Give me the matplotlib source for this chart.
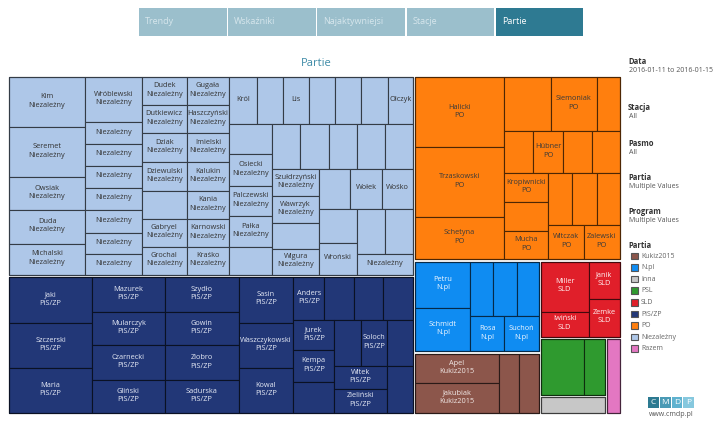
import matplotlib.pyplot as plt
from matplotlib.patches import Rectangle
import matplotlib.colors as mcolors

plt.rcParams['font.family'] = ['Open Sans', 'DejaVu Sans']

# czas antenowy (wartosci komorek treemapy)
niez_labels = ['Kim\nNiezależny', 'Seremet\nNiezależny', 'Owsiak\nNiezależny', 'Duda\nNiezależny', 'Michalski\nNiezależny',
               'Wróblewski\nNiezależny', 'Niezależny', 'Niezależny', 'Niezależny', 'Niezależny', 'Niezależny', 'Niezależny', 'Niezależny',
               'Dudek\nNiezależny', 'Dutkiewicz\nNiezależny', 'Dziak\nNiezależny', 'Dziewulski\nNiezależny', '', 'Gabryel\nNiezależny', 'Grochal\nNiezależny',
               'Gugała\nNiezależny', 'Haszczyński\nNiezależny', 'Imielski\nNiezależny', 'Kalukin\nNiezależny', 'Kania\nNiezależny', 'Karnowski\nNiezależny', 'Kraśko\nNiezależny',
               'Król', '', 'Lis', '', '', '', 'Olczyk',
               '', 'Osiecki\nNiezależny', 'Palczewski\nNiezależny', 'Pałka\nNiezależny', '',
               '', '', '', '', '',
               'Szułdrzyński\nNiezależny', 'Wawrzyk\nNiezależny', '', 'Wigura\nNiezależny',
               '', 'Wołek', 'Wośko',
               '', 'Wroński',
               '', '', 'Niezależny']
niez_values = [380, 380, 251, 258, 236,
               257, 125, 125, 125, 125, 131, 120, 120,
               126, 126, 131, 131, 126, 126, 126,
               120, 120, 125, 125, 120, 120, 120,
               132, 122, 122, 122, 122, 127, 118,
               129, 138, 129, 133, 120,
               126, 131, 126, 126, 126,
               127, 127, 122, 122,
               124, 128, 124,
               129, 122,
               126, 126, 118]
niez_tree = ('h', [('v', [0, 1, 2, 3, 4]), ('v', [5, 6, 7, 8, 9, 10, 11, 12]),
                   ('h', [('v', [13, 14, 15, 16, 17, 18, 19]), ('v', [20, 21, 22, 23, 24, 25, 26])]),
                   ('v', [('h', [27, 28, 29, 30, 31, 32, 33]),
                          ('h', [('v', [34, 35, 36, 37, 38]),
                                 ('v', [('h', [39, 40, 41, 42, 43]),
                                        ('h', [('v', [44, 45, 46, 47]),
                                               ('v', [('h', [48, 49, 50]),
                                                      ('h', [('v', [51, 52]), ('v', [('h', [53, 54]), 55])])])])])])])])

pis_labels = ['Jaki\nPiS/ZP', 'Szczerski\nPiS/ZP', 'Maria\nPiS/ZP',
              'Mazurek\nPiS/ZP', 'Mularczyk\nPiS/ZP', 'Czarnecki\nPiS/ZP', 'Gliński\nPiS/ZP',
              'Szydło\nPiS/ZP', 'Gowin\nPiS/ZP', 'Ziobro\nPiS/ZP', 'Sadurska\nPiS/ZP',
              'Sasin\nPiS/ZP', 'Waszczykowski\nPiS/ZP', 'Kowal\nPiS/ZP',
              'Anders\nPiS/ZP', '', '', '',
              'Jurek\nPiS/ZP', 'Kempa\nPiS/ZP', '',
              '', 'Soloch\nPiS/ZP', '',
              'Witek\nPiS/ZP', 'Zieliński\nPiS/ZP', '']
pis_values = [382, 382, 374,
              256, 248, 256, 241,
              259, 252, 259, 244,
              253, 253, 248,
              133, 129, 125, 129,
              127, 131, 127,
              127, 122, 122,
              122, 127, 122]
pis_tree = ('h', [('v', [0, 1, 2]), ('v', [3, 4, 5, 6]), ('v', [7, 8, 9, 10]), ('v', [11, 12, 13]),
                  ('v', [('h', [14, 15, 16, 17]),
                         ('h', [('v', [18, 19, 20]),
                                ('v', [('h', [21, 22, 23]), ('h', [('v', [24, 25]), 26])])])])])

po_labels = ['Halicki\nPO', 'Trzaskowski\nPO', 'Schetyna\nPO',
             '', 'Siemoniak\nPO', '',
             '', 'Hübner\nPO', '', '',
             'Kropiwnicki\nPO', '', 'Mucha\nPO',
             '', '', '',
             'Witczak\nPO', 'Zalewski\nPO']
po_values = [632, 623, 383,
             254, 248, 124,
             125, 129, 125, 120,
             128, 128, 128,
             125, 130, 120,
             126, 126]
po_tree = ('h', [('v', [0, 1, 2]),
                 ('v', [('h', [3, 4, 5]), ('h', [6, 7, 8, 9]),
                        ('h', [('v', [10, 11, 12]), ('v', [('h', [13, 14, 15]), ('h', [16, 17])])])])])

npl_labels = ['Petru\nN.pl', 'Schmidt\nN.pl', '', '', '', 'Rosa\nN.pl', 'Suchoń\nN.pl']
npl_values = [262, 250, 131, 131, 125, 123, 123]
npl_tree = ('h', [('v', [0, 1]), ('v', [('h', [2, 3, 4]), ('h', [5, 6])])])

kukiz_labels = ['Apel\nKukiz2015', 'Jakubiak\nKukiz2015', '', '']
kukiz_values = [258, 258, 124, 124]
kukiz_tree = ('h', [('v', [0, 1]), 2, 3])

sld_labels = ['Miller\nSLD', 'Iwiński\nSLD', 'Janik\nSLD', 'Zemke\nSLD']
sld_values = [250, 125, 122, 125]
sld_tree = ('h', [('v', [0, 1]), ('v', [2, 3])])

psl_labels = ['', '']
psl_values = [255, 125]
psl_tree = ('h', [0, 1])

inna_labels = ['']
inna_values = [118]
razem_labels = ['']
razem_values = [113]

party_tree = ('h', [('v', ['Niezależny', 'PiS/ZP']),
                    ('v', ['PO', ('h', [('v', ['N.pl', 'Kukiz2015']),
                                        ('v', ['SLD', ('h', [('v', ['PSL', 'Inna']), 'Razem'])])])])])

legend_names = ['Kukiz2015', 'N.pl', 'Inna', 'PSL', 'SLD', 'PiS/ZP', 'PO', 'Niezależny', 'Razem']
colors = {'Kukiz2015': '#8c564b', 'N.pl': '#0f8cf2', 'Inna': '#c7c7c7', 'PSL': '#2f9a2f',
          'SLD': '#e01f2a', 'PiS/ZP': '#223777', 'PO': '#ff7f0e', 'Niezależny': '#aec7e8', 'Razem': '#e377c2'}
text_colors = {'Kukiz2015': '#f0e8e6', 'N.pl': '#eef6ff', 'Inna': '#333333', 'PSL': '#ffffff',
               'SLD': '#fff0f0', 'PiS/ZP': '#e4e8f4', 'PO': '#3a3a3a', 'Niezależny': '#333333', 'Razem': '#333333'}

parties = {
    'Niezależny': (niez_labels, niez_values, niez_tree),
    'PiS/ZP': (pis_labels, pis_values, pis_tree),
    'PO': (po_labels, po_values, po_tree),
    'N.pl': (npl_labels, npl_values, npl_tree),
    'Kukiz2015': (kukiz_labels, kukiz_values, kukiz_tree),
    'SLD': (sld_labels, sld_values, sld_tree),
    'PSL': (psl_labels, psl_values, psl_tree),
    'Inna': (inna_labels, inna_values, ('h', [0])),
    'Razem': (razem_labels, razem_values, ('h', [0])),
}


def total(node, leaf_value):
    if isinstance(node, tuple):
        return sum(total(k, leaf_value) for k in node[1])
    return leaf_value(node)


def slice_layout(node, leaf_value, x, y, w, h, out):
    if not isinstance(node, tuple):
        out.append((node, x, y, w, h))
        return
    d, kids = node
    sizes = [total(k, leaf_value) for k in kids]
    s = float(sum(sizes))
    pos = 0.0
    for k, t in zip(kids, sizes):
        f = t / s
        if d == 'h':
            slice_layout(k, leaf_value, x + w * pos, y, w * f, h, out)
        else:
            slice_layout(k, leaf_value, x, y + h * pos, w, h * f, out)
        pos += f


fig = plt.figure(figsize=(7.2, 4.23), dpi=100)
ax = fig.add_axes([0, 0, 1, 1])
ax.set_xlim(0, 720)
ax.set_ylim(423, 0)
ax.axis('off')

# zakladki
tabs = ['Trendy', 'Wskaźniki', 'Najaktywniejsi', 'Stacje', 'Partie']
for i, t in enumerate(tabs):
    x = 139 + i * 89.2
    active = t == 'Partie'
    ax.add_patch(Rectangle((x, 8), 87.5, 28, facecolor='#2e7a92' if active else '#9bbfcc',
                           edgecolor='none'))
    ax.text(x + 6, 22, t, fontsize=6.5, color='#ffffff' if active else '#d6e6ec', va='center', ha='left')

ax.text(316, 63, 'Partie', fontsize=8, color='#3d8aa6', ha='center', va='center')

# treemapa
party_rects = []
slice_layout(party_tree, lambda p: sum(parties[p][1]), 8, 76, 613, 338, party_rects)
gap = 1.2
for party, px, py, pw, ph in party_rects:
    labels, values, tree = parties[party]
    px, py, pw, ph = px + gap, py + gap, pw - 2 * gap, ph - 2 * gap
    fc = colors[party]
    ec = tuple(c * 0.3 for c in mcolors.to_rgb(fc))
    cells = []
    slice_layout(tree, lambda i: values[i], px, py, pw, ph, cells)
    for i, cx, cy, cw, chh in cells:
        ax.add_patch(Rectangle((cx, cy), cw, chh, facecolor=fc, edgecolor=ec, linewidth=0.8))
        if labels[i]:
            ax.text(cx + cw / 2, cy + chh / 2 - 1, labels[i], fontsize=5.3, color=text_colors[party],
                    ha='center', va='center', linespacing=1.3)
    ax.add_patch(Rectangle((px, py), pw, ph, facecolor='none', edgecolor=ec, linewidth=0.8))

# panel boczny
side = [('Data', '2016-01-11 to 2016-01-15', 62), ('Stacja', 'All', 108), ('Pasmo', 'All', 143),
        ('Partia', 'Multiple Values', 177), ('Program', 'Multiple Values', 212)]
for head, val, yy in side:
    ax.text(628, yy, head, fontsize=5.5, fontweight='bold', color='#333333', va='center')
    ax.text(629, yy + 9, val, fontsize=5, color='#555555', va='center')

ax.text(628, 246, 'Partia', fontsize=5.5, fontweight='bold', color='#333333', va='center')
for i, name in enumerate(legend_names):
    yy = 256 + i * 11.6
    ax.add_patch(Rectangle((631, yy - 3.3), 6.6, 6.6, facecolor=colors[name], edgecolor='#555555', linewidth=0.8))
    ax.text(641, yy, name, fontsize=5, color='#666666', va='center')

# logo
logo_cols = ['#2c7a91', '#4a9ab5', '#5fb2cf', '#86c8de']
for i, ch in enumerate('CMDP'):
    ax.add_patch(Rectangle((648 + i * 11.8, 397), 10.8, 11, facecolor=logo_cols[i], edgecolor='none'))
    ax.text(648 + i * 11.8 + 5.4, 402.5, ch, fontsize=6, color='white', ha='center', va='center')
ax.text(671, 415, 'www.cmdp.pl', fontsize=5, color='#555555', ha='center', va='center')

fig.savefig('out.png', dpi=100)
